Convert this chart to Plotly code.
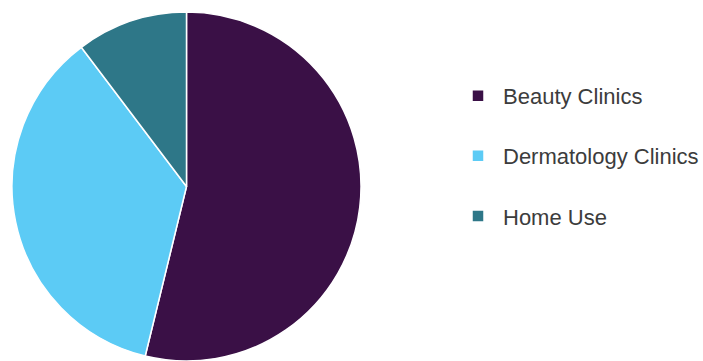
import plotly.graph_objects as go

categories = ["Beauty Clinics", "Dermatology Clinics", "Home Use"]
shares = [53.8, 35.9, 10.3]
colors = ["#3a1046", "#5ccbf5", "#2e7788"]

# legend labels get a blank second line to reproduce the wide item spacing
legend_labels = [c + "<br> " for c in categories]

fig = go.Figure(
    go.Pie(
        labels=legend_labels,
        values=shares,
        customdata=categories,
        hovertemplate="%{customdata}: %{value}<extra></extra>",
        sort=False,
        direction="clockwise",
        rotation=0,
        textinfo="none",
        marker=dict(colors=colors, line=dict(color="white", width=1.5)),
        domain=dict(x=[0, 373 / 703], y=[0, 1]),
    )
)

fig.update_layout(
    width=703,
    height=361,
    margin=dict(l=0, r=0, t=12, b=0, autoexpand=False),
    paper_bgcolor="white",
    plot_bgcolor="white",
    showlegend=True,
    legend=dict(
        x=453 / 703,
        xanchor="left",
        y=1 - 65 / 361,
        yanchor="top",
        valign="top",
        itemwidth=40,
        font=dict(family="Liberation Sans, Arial, sans-serif", size=22, color="#3c3c3c"),
        bgcolor="rgba(0,0,0,0)",
    ),
)

fig.write_html("out.html")
